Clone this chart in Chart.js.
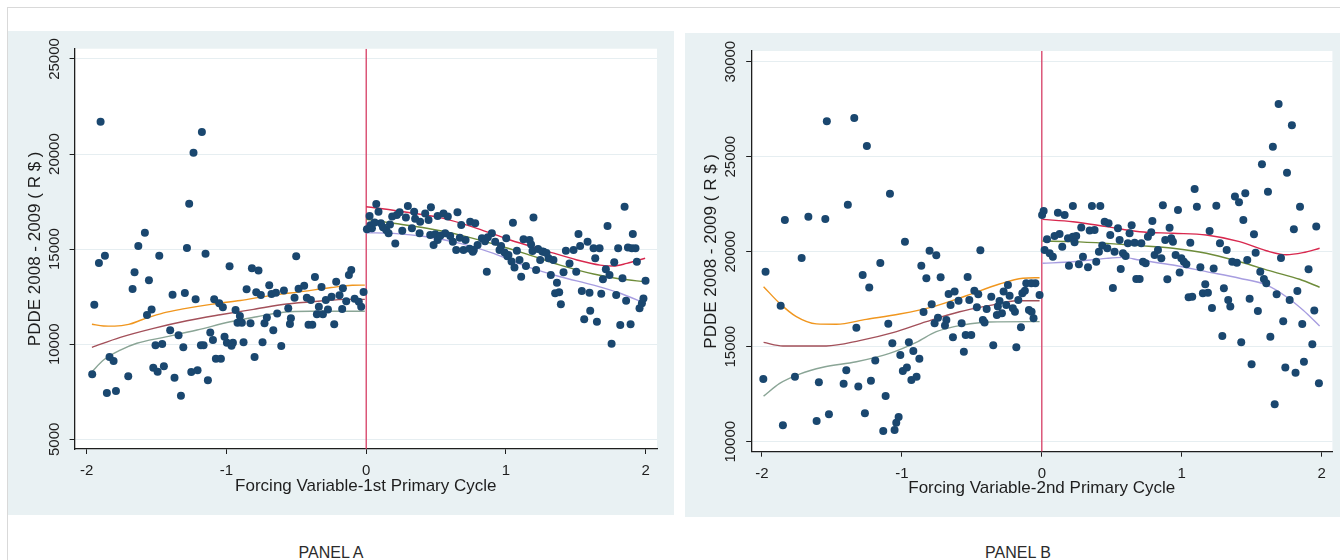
<!DOCTYPE html>
<html>
<head>
<meta charset="utf-8">
<script src="https://cdn.jsdelivr.net/npm/chart.js@4.4.1/dist/chart.umd.min.js"></script>
<style>
  html, body { margin: 0; padding: 0; }
  body { width: 1340px; height: 560px; background: #fff; position: relative; overflow: hidden;
         font-family: "Liberation Sans", Arial, sans-serif; }
  #frame { position: absolute; left: 7px; top: 7px; width: 1400px; height: 600px;
           border-left: 1px solid #d9d9d9; border-top: 1px solid #d9d9d9; }
  .panel { position: absolute; background: #e9f1f3; }
  #panelA { left: 8px; top: 31px; width: 666px; height: 484px; }
  #panelB { left: 685px; top: 33px; width: 655px; height: 484px; }
  .panel canvas { position: absolute; left: 0; top: 0; }
  .caption { position: absolute; top: 545px; width: 200px; text-align: center;
             font-size: 16px; line-height: 16px; color: #2b2b2b; white-space: pre; }
</style>
</head>
<body>
<div id="frame"></div>
<div class="panel" id="panelA"><canvas id="chartA" width="666" height="484"></canvas></div>
<div class="panel" id="panelB"><canvas id="chartB" width="655" height="484"></canvas></div>
<div class="caption" style="left:231px">PANEL A</div>
<div class="caption" style="left:918px">PANEL B</div>

<script>
// ---- Panel A: PDDE 2008-2009 vs. forcing variable, 1st primary cycle ----
const xTicks = [-2, -1, 0, 1, 2];
const yTicksA = [5000, 10000, 15000, 20000, 25000];
const yTicksB = [10000, 15000, 20000, 25000, 30000];
const cutoff = 0;

const schoolsA_below = [
  [-1.901,21700],[-1.176,21160],[-1.236,20070],[-1.267,17390],[-1.584,15860],[-1.631,15160],
  [-1.870,14650],[-1.913,14270],[-1.481,14650],[-1.283,15060],[-1.150,14760],[-1.658,13780],
  [-1.555,13360],[-1.672,12900],[-1.946,12080],[-1.536,11830],[-1.569,11530],[-1.386,12600],
  [-1.298,12690],[-1.221,12360],[-0.978,14100],[-0.818,13990],[-0.771,13870],[-0.501,14620],
  [-0.367,13530],[-0.107,13900],[-0.124,13640],[-1.088,12360],[-1.052,12150],[-1.026,11940],
  [-0.935,11800],[-0.904,11480],[-0.856,12890],[-0.787,12730],[-0.754,12590],[-0.694,13100],
  [-0.678,12640],[-0.646,12710],[-0.589,12830],[-0.513,12450],[-0.484,12920],[-0.444,13080],
  [-0.425,12450],[-0.396,12320],[-0.320,13010],[-0.339,11970],[-0.289,12320],[-0.248,12500],
  [-0.215,13290],[-0.191,12570],[-0.167,12940],[-0.143,12260],[-0.083,12390],[-0.053,12230],
  [-0.019,12740],[-0.036,11970],[-0.172,11850],[-0.274,11830],[-0.353,11570],[-0.310,11570],
  [-0.558,11890],[-0.539,11360],[-0.546,11060],[-0.637,11620],[-0.711,11410],[-0.728,11100],
  [-0.665,10730],[-0.413,11020],[-0.386,11020],[-0.229,11050],[-0.921,11130],[-0.890,11130],
  [-0.828,11100],[-1.403,10730],[-1.343,10470],[-1.116,10620],[-1.097,10220],[-1.014,10390],
  [-0.997,10080],[-0.954,10080],[-0.964,9920],[-0.878,10100],[-0.742,10100],[-0.608,9900],
  [-1.183,9940],[-1.164,9940],[-1.309,9840],[-1.508,9940],[-1.460,10010],[-1.837,9330],
  [-1.808,9120],[-1.961,8420],[-1.703,8310],[-1.524,8760],[-1.493,8550],[-1.448,8840],
  [-1.372,8240],[-1.252,8540],[-1.207,8630],[-1.133,8100],[-1.076,9240],[-1.040,9240],
  [-0.799,9330],[-1.856,7430],[-1.791,7540],[-1.326,7290]
];

const schoolsA_above = [
  [0.072,17370],[0.024,16740],[0.088,16970],[0.005,16040],[0.041,16100],[0.105,16360],
  [0.143,16010],[0.160,15830],[0.186,16710],[0.219,16790],[0.239,16940],[0.208,15290],
  [0.258,15970],[0.298,17270],[0.284,16670],[0.327,16100],[0.343,16970],[0.382,15830],
  [0.386,16440],[0.422,16880],[0.463,17200],[0.446,16530],[0.482,15220],[0.511,16740],
  [0.511,15480],[0.553,16880],[0.584,16710],[0.565,15830],[0.601,15690],[0.620,15390],
  [0.653,16940],[0.644,14950],[0.680,16270],[0.696,14950],[0.711,15480],[0.744,16440],
  [0.780,16360],[0.763,14860],[0.797,15220],[0.828,15570],[0.863,13810],[0.899,15830],
  [0.923,15390],[0.954,14950],[1.002,15570],[1.018,14690],[1.050,16390],[1.078,14920],
  [1.097,14430],[1.061,14040],[1.109,13550],[1.126,15520],[1.169,15480],[1.143,14110],
  [1.197,16670],[1.216,13900],[1.245,14430],[1.269,14860],[1.305,14520],[1.321,13640],
  [1.340,14430],[1.365,13230],[1.352,12680],[1.381,12730],[1.393,12100],[1.412,13780],
  [1.429,14920],[1.455,14250],[1.484,14950],[1.503,13810],[1.519,15800],[1.531,15160],
  [1.543,12800],[1.560,11310],[1.584,15390],[1.598,12710],[1.603,11760],[1.627,15040],
  [1.639,14520],[1.670,15040],[1.651,11180],[1.682,12660],[1.694,13410],[1.715,13940],
  [1.727,16220],[1.741,13640],[1.756,10030],[1.775,14310],[1.789,12590],[1.803,15040],
  [1.818,11010],[1.834,13470],[1.849,17230],[1.860,12290],[1.873,15080],[1.892,11050],
  [1.908,15800],[1.901,15040],[1.927,15040],[1.937,14340],[1.956,11890],[1.973,12150],
  [1.984,12410],[1.999,13340],
  [0.458,15740],[0.494,15780],[0.530,15700],[0.670,15600],[0.740,15020],[0.770,14950],
  [0.850,15420],[0.870,15620],[0.965,15170],[0.990,14820],[1.010,14620],[1.040,14350],
  [1.180,15240],[1.190,14900],[1.230,15010],[1.260,14880],[1.290,14800],[0.030,16250],
  [0.060,16400],[0.120,16150],[0.170,16300],[0.350,16600]
];

// fitted polynomial and confidence band, each side of the cutoff
const fitA_below_upper = [[-1.963,11050],[-1.880,10960],[-1.800,10950],[-1.700,11040],[-1.600,11300],[-1.450,11650],[-1.300,11870],[-1.100,12110],[-0.900,12300],[-0.700,12540],[-0.450,12780],[-0.250,12980],[-0.100,13100],[-0.010,13110]];
const fitA_below_mid   = [[-1.963,9835],[-1.760,10360],[-1.522,10835],[-1.283,11235],[-1.045,11550],[-0.806,11835],[-0.568,12115],[-0.329,12270],[-0.138,12360],[-0.010,12360]];
const fitA_below_lower = [[-1.963,8550],[-1.880,9170],[-1.760,9690],[-1.641,10050],[-1.450,10360],[-1.211,10745],[-0.973,11180],[-0.782,11445],[-0.592,11680],[-0.401,11730],[-0.010,11730]];
const fitA_above_upper = [[0,17230],[0.100,17140],[0.315,16915],[0.553,16620],[0.792,16095],[1.030,15480],[1.269,14950],[1.508,14430],[1.674,14160],[1.770,14110],[1.865,14250],[1.996,14520]];
const fitA_above_mid   = [[0,16570],[0.195,16360],[0.434,16095],[0.673,15740],[0.911,15270],[1.150,14740],[1.388,14160],[1.627,13690],[1.818,13430],[1.996,13290]];
const fitA_above_lower = [[0,15860],[0.195,15830],[0.434,15650],[0.673,15300],[0.911,14780],[1.150,14080],[1.388,13550],[1.627,13110],[1.818,12680],[1.996,12150]];

// ---- Panel B: PDDE 2008-2009 vs. forcing variable, 2nd primary cycle ----
const schoolsB_below = [
  [-1.536,26860],[-1.340,27040],[-1.250,25560],[-1.085,23050],[-1.386,22470],[-1.836,21670],
  [-1.668,21840],[-1.547,21720],[-1.716,19670],[-1.974,18950],[-0.978,20530],[-1.154,19410],
  [-1.280,18770],[-1.233,18110],[-1.866,17160],[-1.325,16000],[-1.097,16210],[-1.990,13300],
  [-1.764,13420],[-1.593,13130],[-1.416,13050],[-1.397,13760],[-1.311,12900],[-1.221,13210],
  [-1.190,14280],[-1.116,12410],[-1.068,15180],[-1.011,14560],[-0.950,15230],[-0.918,14770],
  [-0.875,14370],[-0.993,13720],[-0.964,13900],[-0.932,13250],[-0.895,13420],[-1.850,10860],
  [-1.609,11090],[-1.521,11440],[-1.264,11500],[-1.133,10560],[-1.052,10620],[-1.040,11000],
  [-1.023,11300],[-0.861,19260],[-0.802,20050],[-0.754,19810],[-0.825,18600],[-0.723,18650],
  [-0.530,18670],[-0.439,20070],[-0.787,17230],[-0.845,16830],[-0.742,16530],[-0.766,16230],
  [-0.682,16410],[-0.692,16110],[-0.666,17770],[-0.623,17900],[-0.595,17420],[-0.652,17200],
  [-0.573,16230],[-0.635,15500],[-0.544,15620],[-0.504,15620],[-0.557,14740],[-0.518,17460],
  [-0.482,17950],[-0.454,17760],[-0.464,17070],[-0.421,16410],[-0.409,16280],[-0.361,17630],
  [-0.394,16980],[-0.347,15070],[-0.314,17110],[-0.302,17410],[-0.321,16670],[-0.285,16760],
  [-0.273,17900],[-0.242,18250],[-0.230,17680],[-0.254,17200],[-0.207,17020],[-0.192,16840],
  [-0.182,14970],[-0.149,16020],[-0.168,17460],[-0.139,17810],[-0.121,17950],[-0.111,18340],
  [-0.092,16930],[-0.073,16840],[-0.059,16500],[-0.046,18340],[-0.075,18340],[-0.016,17720]
];

const schoolsB_above = [
  [0.013,22140],[0.002,21930],[0.020,20090],[0.056,19920],[0.079,19740],[0.037,20650],
  [0.091,20830],[0.127,20930],[0.115,22050],[0.163,21930],[0.146,20260],[0.194,19260],
  [0.187,20710],[0.222,22410],[0.222,20790],[0.246,20830],[0.234,20500],[0.265,19340],
  [0.294,19740],[0.282,21280],[0.330,19180],[0.342,21110],[0.358,22410],[0.377,21140],
  [0.389,19470],[0.418,22410],[0.408,20000],[0.432,20320],[0.449,21580],[0.477,21500],
  [0.489,20880],[0.468,20180],[0.508,18090],[0.520,20000],[0.544,21230],[0.556,20620],
  [0.564,19090],[0.580,19920],[0.599,19770],[0.615,20440],[0.627,20970],[0.642,21390],
  [0.663,20470],[0.675,18560],[0.699,18560],[0.711,20440],[0.723,19470],[0.742,19390],
  [0.758,20790],[0.782,21020],[0.790,21620],[0.806,19830],[0.830,20090],[0.854,19650],
  [0.865,22440],[0.882,20620],[0.897,18550],[0.913,21260],[0.925,20710],[0.937,20530],
  [0.956,19830],[0.973,22200],[0.985,18900],[0.997,19650],[1.015,19470],[1.033,19340],
  [1.049,17600],[1.075,17630],[1.061,20470],[1.092,23300],[1.108,22370],[1.133,19180],
  [1.151,17810],[1.168,18290],[1.187,17840],[1.199,21090],[1.216,17040],[1.228,19110],
  [1.247,22420],[1.273,20440],[1.290,15560],[1.301,18070],[1.321,20090],[1.332,17460],
  [1.347,17110],[1.361,19470],[1.380,22900],[1.394,19420],[1.409,22600],[1.425,15230],
  [1.440,21670],[1.454,23070],[1.468,19560],[1.485,17530],[1.499,14070],[1.516,20920],
  [1.528,19950],[1.544,16880],[1.561,18950],[1.573,24600],[1.587,18560],[1.604,18340],
  [1.616,23160],[1.633,15530],[1.651,25530],[1.664,11970],[1.678,17760],[1.692,27770],
  [1.709,19670],[1.725,16340],[1.740,13900],[1.752,24160],[1.771,17460],[1.787,26650],
  [1.801,21180],[1.813,13630],[1.826,17930],[1.845,22370],[1.861,16200],[1.873,14210],
  [1.906,19070],[1.933,15130],[1.947,16900],[1.961,21320],[1.980,13070]
];

const fitB_below_upper = [[-1.988,18160],[-1.873,17280],[-1.754,16580],[-1.611,16200],[-1.468,16180],[-1.254,16440],[-1.016,16720],[-0.778,17100],[-0.540,17680],[-0.302,18300],[-0.135,18600],[-0.016,18630]];
const fitB_below_mid   = [[-1.988,15230],[-1.850,15040],[-1.540,15040],[-1.302,15320],[-1.064,15740],[-0.825,16320],[-0.587,16840],[-0.349,17200],[-0.182,17420],[-0.016,17420]];
const fitB_below_lower = [[-1.988,12400],[-1.873,13070],[-1.731,13560],[-1.564,13920],[-1.325,14210],[-1.088,14650],[-0.897,15230],[-0.754,15790],[-0.564,16140],[-0.373,16300],[-0.016,16320]];
const fitB_above_upper = [[0.004,21700],[0.222,21580],[0.461,21320],[0.699,21050],[0.937,20970],[1.175,20880],[1.413,20530],[1.604,20050],[1.747,19840],[1.866,19950],[1.985,20180]];
const fitB_above_mid   = [[0.004,20560],[0.222,20530],[0.461,20440],[0.699,20320],[0.937,20180],[1.175,19920],[1.413,19470],[1.651,18950],[1.842,18550],[1.985,18130]];
const fitB_above_lower = [[0.004,19390],[0.222,19470],[0.461,19650],[0.580,19700],[0.699,19560],[0.937,19300],[1.175,18950],[1.413,18600],[1.604,18250],[1.747,17630],[1.866,16930],[1.985,16090]];

// ---- styling ----
const FONT = '"Liberation Sans", Arial, sans-serif';
const MARKER = '#1a476f';
const C_ORANGE = '#f0961e', C_MAROON = '#a3505a', C_SAGE = '#8aa596';
const C_RED = '#d8284e', C_OLIVE = '#6e8c3a', C_LAVENDER = '#a79de0';
const C_CUTOFF = '#d63c64';
const AXIS = '#1e1e1e';

const toXY = arr => arr.map(([x, y]) => ({ x, y }));

const plotBackground = {
  id: 'plotBackground',
  beforeDraw(chart) {
    const { ctx, chartArea: a } = chart;
    ctx.save();
    ctx.fillStyle = '#ffffff';
    ctx.fillRect(a.left, a.top, a.right - a.left, a.bottom - a.top);
    ctx.restore();
  }
};

function fitLine(data, color, order) {
  return { type: 'line', data: toXY(data), borderColor: color, borderWidth: 1.4,
           pointRadius: 0, fill: false, cubicInterpolationMode: 'monotone', order };
}

function buildPanel(canvasId, p) {
  const datasets = [
    { type: 'scatter', data: toXY(p.below), backgroundColor: MARKER, borderColor: MARKER,
      borderWidth: 0, pointRadius: 4, order: 0 },
    { type: 'scatter', data: toXY(p.above), backgroundColor: MARKER, borderColor: MARKER,
      borderWidth: 0, pointRadius: 4, order: 0 },
    fitLine(p.fits[0], C_ORANGE, 1),
    fitLine(p.fits[1], C_MAROON, 1),
    fitLine(p.fits[2], C_SAGE, 1),
    fitLine(p.fits[3], C_RED, 1),
    fitLine(p.fits[4], C_OLIVE, 1),
    fitLine(p.fits[5], C_LAVENDER, 1),
    { type: 'line', data: [{ x: cutoff, y: p.yMin }, { x: cutoff, y: p.yMax }],
      borderColor: C_CUTOFF, borderWidth: 1.3, pointRadius: 0, fill: false, order: 2 }
  ];

  return new Chart(document.getElementById(canvasId), {
    type: 'scatter',
    data: { datasets },
    plugins: [plotBackground],
    options: {
      responsive: false,
      animation: false,
      devicePixelRatio: 1,
      layout: { padding: p.padding },
      plugins: { legend: { display: false }, tooltip: { enabled: false } },
      scales: {
        x: {
          type: 'linear', min: p.xMin, max: p.xMax,
          afterBuildTicks: s => { s.ticks = xTicks.map(v => ({ value: v })); },
          afterFit: s => { s.height = p.xAxisHeight; },
          ticks: { autoSkip: false, maxRotation: 0, padding: 8, color: AXIS,
                   font: { family: FONT, size: 15 }, callback: v => String(v) },
          grid: { drawOnChartArea: false, tickLength: 5, tickColor: AXIS, tickWidth: 1 },
          border: { color: AXIS, width: 1.3 },
          title: { display: true, text: p.xTitle, color: AXIS,
                   font: { family: FONT, size: 17 }, padding: { top: 0, bottom: 18.5 } }
        },
        y: {
          type: 'linear', min: p.yMin, max: p.yMax,
          afterBuildTicks: s => { s.ticks = p.yTicks.map(v => ({ value: v })); },
          afterFit: s => { s.width = p.yAxisWidth; },
          ticks: { autoSkip: false, minRotation: 90, maxRotation: 90, crossAlign: 'center',
                   padding: p.yTickPad, color: AXIS, font: { family: FONT, size: 15 },
                   callback: v => String(v) },
          grid: { color: '#e6eef1', lineWidth: 1, tickLength: 5, tickColor: AXIS, tickWidth: 1 },
          border: { color: AXIS, width: 1.3 },
          title: { display: true, text: 'PDDE 2008 - 2009 ( R $ )', color: AXIS,
                   font: { family: FONT, size: 17 }, padding: { top: p.yTitlePad, bottom: 0 } }
        }
      }
    }
  });
}

buildPanel('chartA', {
  below: schoolsA_below, above: schoolsA_above,
  fits: [fitA_below_upper, fitA_below_mid, fitA_below_lower, fitA_above_upper, fitA_above_mid, fitA_above_lower],
  xMin: -2.087, xMax: 2.081, yMin: 4490, yMax: 25540, yTicks: yTicksA,
  padding: { left: 0, top: 17.7, right: 17, bottom: 0 },
  xAxisHeight: 66, yAxisWidth: 66.6, yTickPad: -6.5, yTitlePad: 17.5,
  xTitle: 'Forcing Variable-1st Primary Cycle'
});

buildPanel('chartB', {
  below: schoolsB_below, above: schoolsB_above,
  fits: [fitB_below_upper, fitB_below_mid, fitB_below_lower, fitB_above_upper, fitB_above_mid, fitB_above_lower],
  xMin: -2.0765, xMax: 2.0764, yMin: 9474, yMax: 30563, yTicks: yTicksB,
  padding: { left: 0, top: 18, right: 7.6, bottom: 0 },
  xAxisHeight: 65.3, yAxisWidth: 66.2, yTickPad: -5.2, yTitlePad: 16.5,
  xTitle: 'Forcing Variable-2nd Primary Cycle'
});
</script>
</body>
</html>
